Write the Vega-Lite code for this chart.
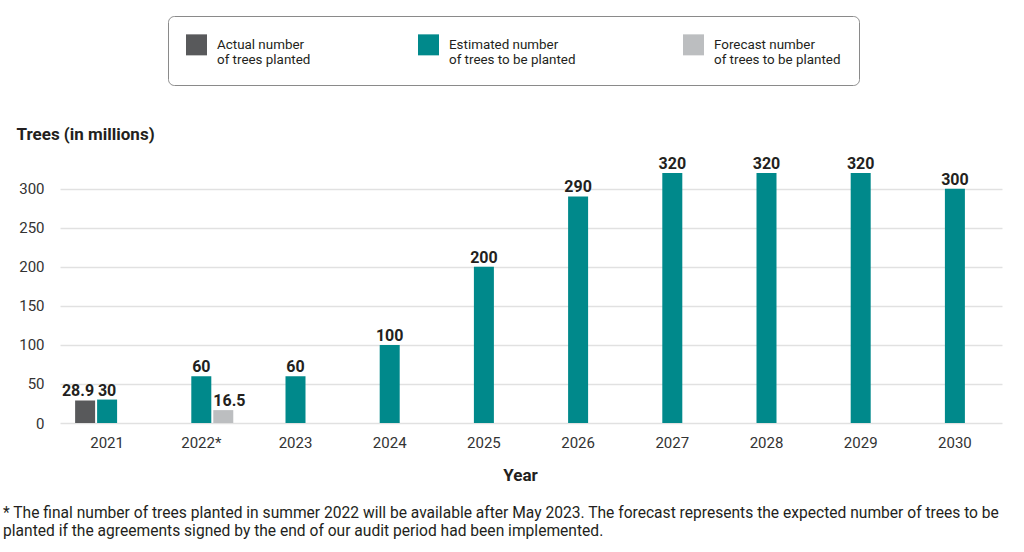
{
  "$schema": "https://vega.github.io/schema/vega-lite/v6.json",
  "width": 942,
  "height": 250,
  "autosize": {"type": "none"},
  "padding": {"left": 60, "top": 173, "right": 22, "bottom": 129},
  "background": "white",
  "title": {
    "text": ["* The final number of trees planted in summer 2022 will be available after May 2023. The forecast represents the expected number of trees to be", "planted if the agreements signed by the end of our audit period had been implemented."],
    "orient": "bottom",
    "anchor": "start",
    "frame": "group",
    "dx": -57,
    "offset": 23,
    "baseline": "top",
    "font": "Roboto",
    "fontSize": 15.6,
    "fontWeight": "normal",
    "color": "#231f20",
    "lineHeight": 18
  },
  "data": {
    "values": [
      {"year": "2021", "series": "Actual", "value": 28.9},
      {"year": "2021", "series": "Estimated", "value": 30},
      {"year": "2022*", "series": "Estimated", "value": 60},
      {"year": "2022*", "series": "Forecast", "value": 16.5},
      {"year": "2023", "series": "Estimated", "value": 60},
      {"year": "2024", "series": "Estimated", "value": 100},
      {"year": "2025", "series": "Estimated", "value": 200},
      {"year": "2026", "series": "Estimated", "value": 290},
      {"year": "2027", "series": "Estimated", "value": 320},
      {"year": "2028", "series": "Estimated", "value": 320},
      {"year": "2029", "series": "Estimated", "value": 320},
      {"year": "2030", "series": "Estimated", "value": 300}
    ]
  },
  "encoding": {
    "x": {
      "field": "year",
      "type": "nominal",
      "sort": null,
      "scale": {"paddingInner": 0.3, "paddingOuter": 0.15},
      "axis": {
        "title": "Year",
        "labelAngle": 0,
        "domain": false,
        "ticks": false,
        "labelFont": "Roboto",
        "labelFontSize": 15,
        "labelColor": "#333333",
        "labelPadding": 12,
        "titleFont": "Roboto",
        "titleFontSize": 17,
        "titleFontWeight": "bold",
        "titleColor": "#231f20",
        "titlePadding": 17,
        "titleX": 460
      }
    },
    "xOffset": {
      "field": "series",
      "scale": {"domain": ["Actual", "Estimated", "Forecast"], "paddingInner": 0.09, "paddingOuter": 0.045}
    },
    "y": {
      "field": "value",
      "type": "quantitative",
      "scale": {"domain": [0, 320], "nice": false},
      "axis": {
        "title": "Trees (in millions)",
        "titleAngle": 0,
        "titleAlign": "left",
        "titleBaseline": "alphabetic",
        "titleX": -44,
        "titleY": -34,
        "titleFont": "Roboto",
        "titleFontSize": 17,
        "titleFontWeight": "bold",
        "titleColor": "#231f20",
        "values": [0, 50, 100, 150, 200, 250, 300],
        "domain": false,
        "ticks": false,
        "labelFont": "Roboto",
        "labelFontSize": 15,
        "labelColor": "#333333",
        "labelPadding": 16,
        "gridColor": "#e1e1e1",
        "gridWidth": 1.5
      }
    }
  },
  "layer": [
    {
      "mark": {"type": "bar"},
      "encoding": {
        "color": {
          "field": "series",
          "type": "nominal",
          "scale": {"domain": ["Actual", "Estimated", "Forecast"], "range": ["#58595b", "#00898b", "#bcbec0"]},
          "legend": {
            "orient": "none",
            "legendX": 108,
            "legendY": -157,
            "direction": "horizontal",
            "columns": 3,
            "title": null,
            "symbolType": "square",
            "symbolSize": 441,
            "symbolStrokeWidth": 0,
            "symbolOpacity": 1,
            "labelFont": "Roboto",
            "labelFontSize": 13.4,
            "labelColor": "#231f20",
            "labelOffset": 10,
            "labelLimit": 0,
            "columnPadding": 107,
            "padding": 18,
            "strokeColor": "#8a8a8a",
            "fillColor": "white",
            "cornerRadius": 6,
            "labelExpr": "datum.value == 'Actual' ? ['Actual number', 'of trees planted'] : datum.value == 'Estimated' ? ['Estimated number', 'of trees to be planted'] : ['Forecast number', 'of trees to be planted']"
          }
        }
      }
    },
    {
      "transform": [{"filter": "datum.series == 'Estimated'"}],
      "mark": {"type": "text", "baseline": "alphabetic", "dy": -4, "font": "Roboto", "fontSize": 16, "fontWeight": "bold", "color": "#231f20"},
      "encoding": {"text": {"field": "value", "type": "quantitative"}}
    },
    {
      "transform": [{"filter": "datum.series == 'Actual'"}],
      "mark": {"type": "text", "baseline": "alphabetic", "align": "right", "dx": 9, "dy": -4, "font": "Roboto", "fontSize": 16, "fontWeight": "bold", "color": "#231f20"},
      "encoding": {"text": {"field": "value", "type": "quantitative"}}
    },
    {
      "transform": [{"filter": "datum.series == 'Forecast'"}],
      "mark": {"type": "text", "baseline": "alphabetic", "align": "left", "dx": -10, "dy": -4, "font": "Roboto", "fontSize": 16, "fontWeight": "bold", "color": "#231f20"},
      "encoding": {"text": {"field": "value", "type": "quantitative"}}
    }
  ],
  "config": {
    "view": {"stroke": null},
    "axis": {"labelFontWeight": "normal"}
  }
}
